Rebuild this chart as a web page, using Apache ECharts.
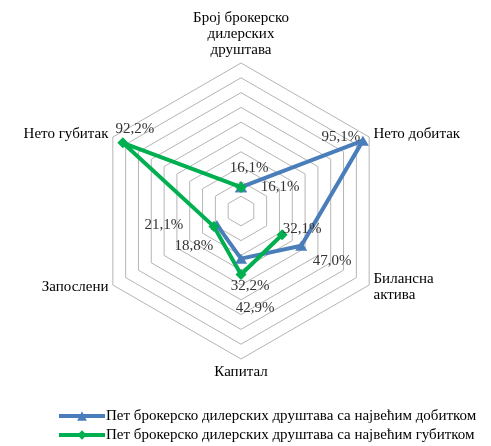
<!DOCTYPE html>
<html>
<head>
<meta charset="utf-8">
<script src="https://cdn.jsdelivr.net/npm/echarts@6/dist/echarts.min.js"></script>
<style>
  html, body { margin: 0; padding: 0; background: #fff; }
  #main { width: 491px; height: 446px; }
</style>
</head>
<body>
<div id="main"></div>
<script>
// индикатори, у смеру казаљке почев од врха
var indicators = [
  'Број брокерско\nдилерских\nдруштава',
  'Нето добитак',
  'Билансна\nактива',
  'Капитал',
  'Запослени',
  'Нето губитак'
];
var seriesNames = [
  'Пет брокерско дилерских друштава са највећим добитком',
  'Пет брокерско дилерских друштава са највећим губитком'
];
// null = празна ћелија (линија се прекида)
var profitValues = [16.1, 95.1, 47.0, 32.2, 18.8, null];
var lossValues = [16.1, null, 32.1, 42.9, 21.1, 92.2];

// померај натписа у односу на тачку (px)
var profitLabelOffset = [[39, 0], [-22, -4], [31, 15], [9, 27], [-23, 21], [0, 0]];
var lossLabelOffset = [[8, -19], [0, 0], [20, -6], [14, 34], [-50, -2], [12, -14]];

var CENTER = [241, 211];
var RADIUS = 148;
var FONT = 'Liberation Serif';

function fmt(v) {
  return v.toFixed(1).replace('.', ',') + '%';
}

// претвара вредности у [радијус, угао] тачке; прва тачка се понавља на крају да се полигон затвори
function buildData(values, offsets) {
  var step = 360 / values.length;
  var out = [];
  for (var i = 0; i <= values.length; i++) {
    var k = i % values.length;
    var v = values[k];
    var item = { value: [v == null ? '-' : v, i * step] };
    if (i < values.length && v != null) {
      item.label = { show: true, offset: offsets[k] };
    }
    out.push(item);
  }
  return out;
}

// radar иде супротно од казаљке, па се редослед обрће (осим првог)
var radarIndicators = [indicators[0]].concat(indicators.slice(1).reverse());

var myChart = echarts.init(document.getElementById('main'));

var option = {
  animation: false,
  backgroundColor: '#fff',
  radar: {
    center: CENTER,
    radius: RADIUS,
    startAngle: 90,
    shape: 'polygon',
    splitNumber: 10,
    indicator: radarIndicators.map(function (n) { return { name: n, max: 100, min: 0 }; }),
    axisName: {
      color: '#000',
      fontFamily: FONT,
      fontSize: 15,
      lineHeight: 16
    },
    nameGap: 5,
    axisLine: { show: false },
    axisTick: { show: false },
    splitArea: { show: false },
    splitLine: { lineStyle: { color: '#b5b5b5', width: 1 } }
  },
  polar: {
    center: CENTER,
    radius: RADIUS
  },
  angleAxis: {
    type: 'value',
    min: 0,
    max: 360,
    startAngle: 90,
    clockwise: true,
    show: false
  },
  radiusAxis: {
    type: 'value',
    min: 0,
    max: 100,
    show: false
  },
  legend: {
    orient: 'vertical',
    left: 57,
    top: 408,
    padding: 0,
    itemWidth: 46,
    itemHeight: 12,
    itemGap: 3,
    lineStyle: { width: 4 },
    textStyle: { color: '#000', fontFamily: FONT, fontSize: 15, lineHeight: 16, padding: [0, 0, 0, -4] },
    data: seriesNames
  },
  series: [
    {
      name: seriesNames[0],
      type: 'line',
      coordinateSystem: 'polar',
      connectNulls: false,
      symbol: 'triangle',
      symbolSize: [12, 10],
      color: '#4a7ebb',
      lineStyle: { width: 4, color: '#4a7ebb' },
      label: {
        show: false,
        position: 'inside',
        color: '#333',
        fontFamily: FONT,
        fontSize: 15,
        formatter: function (p) { return fmt(p.value[0]); }
      },
      data: buildData(profitValues, profitLabelOffset)
    },
    {
      name: seriesNames[1],
      type: 'line',
      coordinateSystem: 'polar',
      connectNulls: false,
      symbol: 'diamond',
      symbolSize: [11, 11],
      color: '#00b050',
      lineStyle: { width: 4, color: '#00b050' },
      label: {
        show: false,
        position: 'inside',
        color: '#333',
        fontFamily: FONT,
        fontSize: 15,
        formatter: function (p) { return fmt(p.value[0]); }
      },
      data: buildData(lossValues, lossLabelOffset)
    }
  ]
};
myChart.setOption(option);
</script>
</body>
</html>
